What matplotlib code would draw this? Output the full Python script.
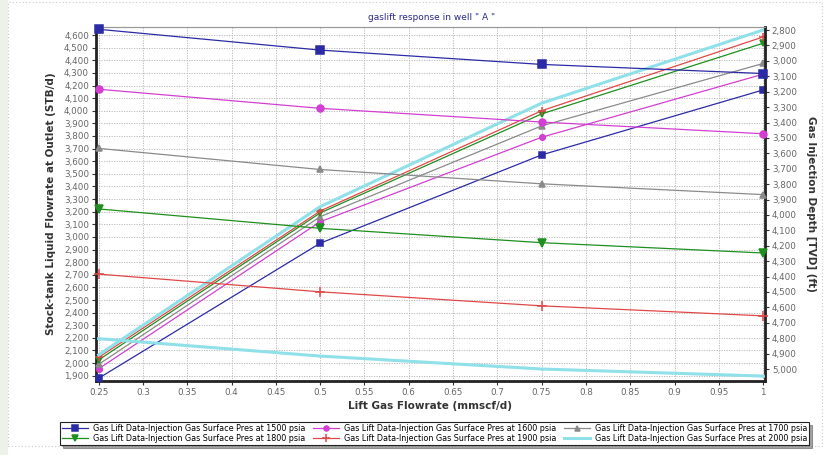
import matplotlib
matplotlib.use("Agg")
import matplotlib.pyplot as plt
from matplotlib.ticker import FuncFormatter
from matplotlib.patches import Rectangle

# ---- data ----
lift_gas = [0.25, 0.5, 0.75, 1.0]
pressures = [1500, 1600, 1700, 1800, 1900, 2000]

# liquid flowrate (left axis, STB/d)
rate_1500 = [1880, 2950, 3650, 4165]
rate_1600 = [1955, 3120, 3790, 4290]
rate_1700 = [1990, 3160, 3880, 4375]
rate_1800 = [2025, 3190, 3975, 4535]
rate_1900 = [2045, 3205, 4000, 4585]
rate_2000 = [2065, 3240, 4060, 4640]

# injection depth (right axis, ft TVD)
depth_1500 = [2795, 2930, 3023, 3082]
depth_1600 = [3184, 3308, 3397, 3473]
depth_1700 = [3568, 3705, 3798, 3868]
depth_1800 = [3961, 4087, 4180, 4247]
depth_1900 = [4384, 4499, 4590, 4655]
depth_2000 = [4803, 4916, 5000, 5046]

rates = [rate_1500, rate_1600, rate_1700, rate_1800, rate_1900, rate_2000]
depths = [depth_1500, depth_1600, depth_1700, depth_1800, depth_1900, depth_2000]

x_ticks = [0.25, 0.3, 0.35, 0.4, 0.45, 0.5, 0.55, 0.6, 0.65, 0.7, 0.75, 0.8, 0.85, 0.9, 0.95, 1]
x_tick_labels = ["0.25", "0.3", "0.35", "0.4", "0.45", "0.5", "0.55", "0.6", "0.65", "0.7",
                 "0.75", "0.8", "0.85", "0.9", "0.95", "1"]

title = 'gaslift response in well " A "'
xlabel = "Lift Gas Flowrate (mmscf/d)"
ylabel_left = "Stock-tank Liquid Flowrate at Outlet (STB/d)"
ylabel_right = "Gas Injection Depth [TVD] (ft)"

# ---- styles ----
colors = ["#2b2ba6", "#d23fd2", "#8a8a8a", "#1f8f1f", "#e04848", "#8fe0e8"]
markers = ["s", "o", "^", "v", "+", "o"]
msizes = [5, 4, 4, 4.5, 6, 0]
lws = [0.9, 0.9, 0.9, 0.9, 0.9, 2.2]

fig = plt.figure(figsize=(8.26, 4.55), dpi=100)
fig.patch.set_facecolor("white")
# page border
fig.patches.append(Rectangle((0, 0), 0.0097, 1, transform=fig.transFigure,
                             facecolor="#eef0ea", edgecolor="none"))
fig.patches.append(Rectangle((0.0097, 0.02), 0.985, 0.975, transform=fig.transFigure,
                             facecolor="none", edgecolor="#c8c8c8", lw=0.8, ls=(0, (1, 2))))

ax = fig.add_axes([0.1162, 0.1626, 0.8098, 0.7781])
ax2 = ax.twinx()

handles = []
for i, p in enumerate(pressures):
    lbl = f"Gas Lift Data-Injection Gas Surface Pres at {p} psia"
    h, = ax.plot(lift_gas, rates[i], color=colors[i], marker=markers[i], ms=msizes[i],
                 lw=lws[i], mew=1.1, label=lbl, clip_on=False, zorder=3)
    ax2.plot(lift_gas, depths[i], color=colors[i], marker=markers[i], ms=msizes[i] + 1,
             lw=lws[i], mew=1.1, clip_on=False, zorder=3)
    handles.append(h)

ax.set_xlim(0.247, 1.002)
ax.set_ylim(1858, 4664)
ax2.set_ylim(5078, 2780)

ax.set_xticks(x_ticks)
ax.set_xticklabels(x_tick_labels)
ax.set_yticks(range(1900, 4601, 100))
ax2.set_yticks(range(2800, 5001, 100))
fmt = FuncFormatter(lambda v, pos: f"{int(v):,}")
ax.yaxis.set_major_formatter(fmt)
ax2.yaxis.set_major_formatter(fmt)

for a in (ax, ax2):
    a.tick_params(labelsize=6.3, labelcolor="#666666", length=3, width=0.8, color="#333333", pad=2)

ax.grid(True, color="#b4b4b4", ls=(0, (1.5, 1.5)), lw=0.6)
ax.set_axisbelow(True)

for s in ("left", "bottom"):
    ax.spines[s].set_linewidth(2)
    ax.spines[s].set_color("#222222")
ax2.spines["right"].set_linewidth(2)
ax2.spines["right"].set_color("#222222")
ax2.spines["left"].set_visible(False)
ax2.spines["bottom"].set_visible(False)
ax.spines["top"].set_color("#999999")
ax2.spines["top"].set_color("#999999")
ax.spines["right"].set_visible(False)

ax.set_xlabel(xlabel, fontsize=7.5, fontweight="bold", color="#333333", labelpad=3)
ax.set_ylabel(ylabel_left, fontsize=7.5, fontweight="bold", color="#333333", labelpad=6)
ax2.set_ylabel(ylabel_right, fontsize=7.5, fontweight="bold", color="#333333",
               rotation=270, labelpad=14)

fig.text(0.522, 0.962, title, ha="center", va="center", fontsize=6.5, color="#2a2a8a")

order = [0, 3, 1, 4, 2, 5]
leg = fig.legend([handles[k] for k in order], [handles[k].get_label() for k in order],
                 loc="center", bbox_to_anchor=(0.526, 0.0475), ncol=3, fontsize=5.8,
                 frameon=True, fancybox=False, shadow=True, edgecolor="#222222",
                 borderpad=0.25, labelspacing=0.1, columnspacing=1.0, handlelength=3.2,
                 handletextpad=0.6, markerscale=0.9)
leg.get_frame().set_linewidth(0.8)

fig.savefig("out.png", dpi=100)
